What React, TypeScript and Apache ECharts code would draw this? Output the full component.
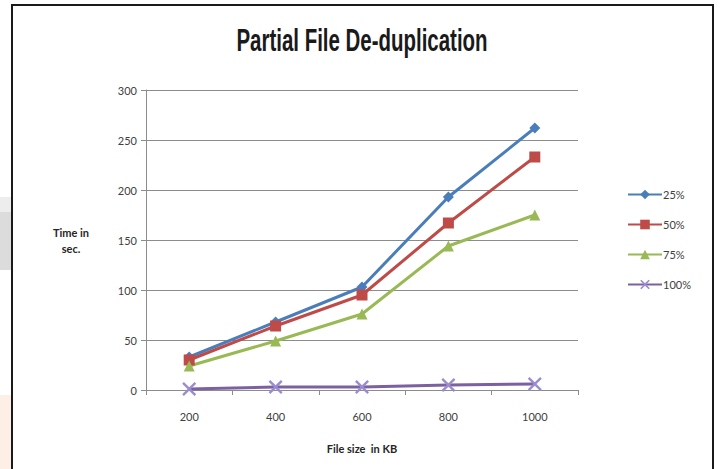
import React, { useEffect, useRef } from "react";
import * as echarts from "echarts";

const categories = ["200", "400", "600", "800", "1000"];
const seriesNames = ["25%", "50%", "75%", "100%"];
const values25 = [33, 68, 103, 193, 262];
const values50 = [30, 64, 95, 167, 233];
const values75 = [24, 49, 76, 144, 175];
const values100 = [1, 3, 3, 5, 6];
const yTicks = { min: 0, max: 300, interval: 50 };

const X_PATH =
  "path://M0,1.2 L1.2,0 L5,3.8 L8.8,0 L10,1.2 L6.2,5 L10,8.8 L8.8,10 L5,6.2 L1.2,10 L0,8.8 L3.8,5 Z";

export default function App() {
  const ref = useRef<HTMLDivElement>(null);
  useEffect(() => {
    if (!ref.current) return;
    const chart = echarts.init(ref.current, null, { renderer: "svg" });
    const font = "Lato, 'Open Sans', sans-serif";
    const mk = (name: string, data: number[], color: string, symbol: string, size: number, symColor?: string) => ({
      name,
      type: "line",
      data,
      symbol,
      symbolSize: size,
      lineStyle: { color, width: 3 },
      itemStyle: { color: symColor || color },
      emphasis: { disabled: true },
    });
    chart.setOption({
      animation: false,
      backgroundColor: "#ffffff",
      grid: { left: 146, top: 90, width: 432, height: 300, containLabel: false },
      xAxis: {
        type: "category",
        data: categories,
        boundaryGap: true,
        axisLine: { lineStyle: { color: "#8c8c8c", width: 1 } },
        axisTick: { show: true, interval: 0, length: 5, lineStyle: { color: "#8c8c8c" } },
        axisLabel: { color: "#404040", fontSize: 11, fontFamily: font, margin: 21 },
        splitLine: { show: false },
      },
      yAxis: {
        type: "value",
        min: yTicks.min,
        max: yTicks.max,
        interval: yTicks.interval,
        axisLine: { show: true, lineStyle: { color: "#8c8c8c", width: 1 } },
        axisTick: { show: true, length: 5, lineStyle: { color: "#8c8c8c" } },
        axisLabel: { color: "#404040", fontSize: 11, fontFamily: font, margin: 9 },
        splitLine: { show: true, lineStyle: { color: "#8c8c8c", width: 1 } },
      },
      legend: {
        orient: "vertical",
        left: 622,
        top: 184,
        itemWidth: 34,
        itemHeight: 12,
        itemGap: 19,
        data: seriesNames,
        textStyle: { color: "#404040", fontSize: 11, fontFamily: font, padding: [0, 0, 0, -4] },
        selectedMode: false,
      },
      series: [
        mk(seriesNames[0], values25, "#4a7ebb", "diamond", 11),
        mk(seriesNames[1], values50, "#be4b48", "rect", 11),
        mk(seriesNames[2], values75, "#98b954", "triangle", 11),
        mk(seriesNames[3], values100, "#7d60a0", X_PATH, 14, "#9b8ccf"),
      ],
      graphic: [
        { type: "rect", shape: { x: 0, y: 197, width: 11, height: 15 }, style: { fill: "#ededed" }, silent: true },
        { type: "rect", shape: { x: 0, y: 212, width: 11, height: 58 }, style: { fill: "#dcdcdc" }, silent: true },
        { type: "rect", shape: { x: 0, y: 395, width: 11, height: 74 }, style: { fill: "#fdeee6" }, silent: true },
        {
          type: "rect",
          shape: { x: 12, y: 5, width: 701, height: 470 },
          style: { fill: "none", stroke: "#1a1a1a", lineWidth: 2 },
          silent: true,
        },
        {
          type: "text",
          x: 362,
          y: 40,
          scaleX: 0.66,
          style: {
            text: "Partial File De-duplication",
            fontFamily: "'Liberation Sans Narrow', 'Liberation Sans', sans-serif",
            fontWeight: "bold",
            fontSize: 31,
            fill: "#1a1a1a",
            align: "center",
            verticalAlign: "middle",
          },
        },
        {
          type: "text",
          x: 71,
          y: 240,
          style: {
            text: "Time in\nsec.",
            fontFamily: font,
            fontWeight: "bold",
            fontSize: 11,
            lineHeight: 16,
            fill: "#262626",
            align: "center",
            verticalAlign: "middle",
          },
        },
        {
          type: "text",
          x: 362,
          y: 448,
          style: {
            text: "File size  in KB",
            fontFamily: font,
            fontWeight: "bold",
            fontSize: 11,
            fill: "#262626",
            align: "center",
            verticalAlign: "middle",
          },
        },
      ],
    });
    return () => chart.dispose();
  }, []);
  return (
    <div
      ref={ref}
      style={{ position: "fixed", left: 0, top: 0, width: 720, height: 469 }}
    />
  );
}
